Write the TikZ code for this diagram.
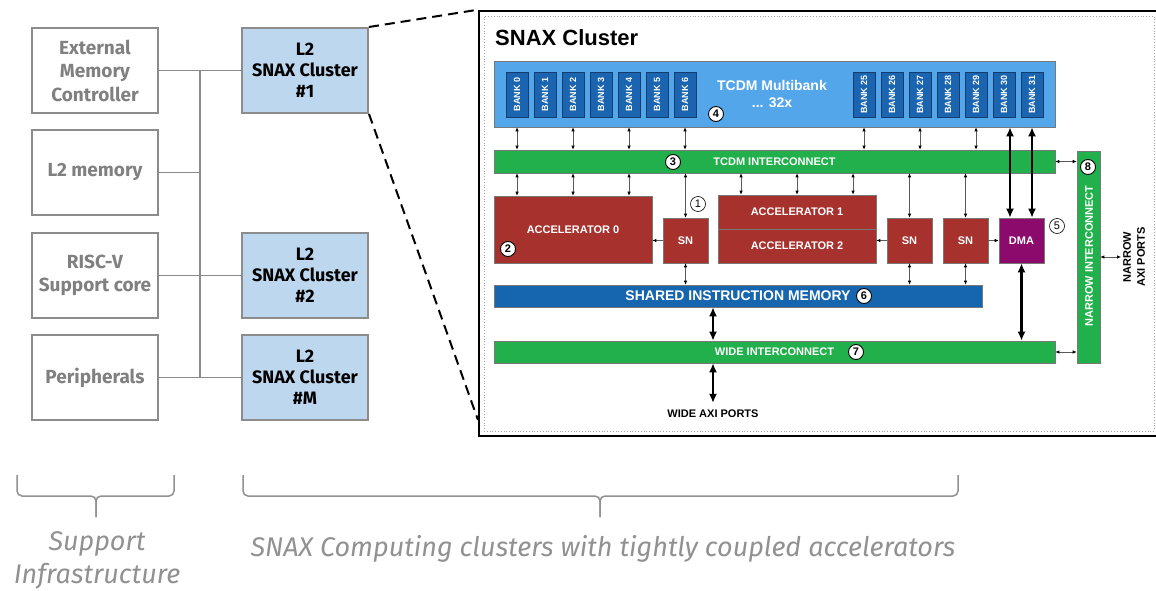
\documentclass[tikz,border=0pt]{standalone}
\usepackage{fontspec}
\setmainfont{Liberation Sans}
\newfontfamily\labelfont{Fira Sans}
\usetikzlibrary{arrows.meta}

\definecolor{boxgray}{RGB}{140,140,140}
\definecolor{boxtext}{RGB}{128,128,128}
\definecolor{clblue}{RGB}{189,215,238}
\definecolor{mbblue}{RGB}{84,166,234}
\definecolor{bankblue}{RGB}{26,100,176}
\definecolor{bankedge}{RGB}{20,60,110}
\definecolor{icgreen}{RGB}{33,176,75}
\definecolor{imemblue}{RGB}{22,101,175}
\definecolor{accred}{RGB}{166,49,45}
\definecolor{dmapurple}{RGB}{140,10,108}
\definecolor{blkedge}{RGB}{120,120,120}
\definecolor{arrgray}{RGB}{90,90,90}
\definecolor{notegray}{RGB}{145,145,145}

\begin{document}
\begin{tikzpicture}[x=1pt,y=-1pt,
  sysbox/.style={draw=boxgray, line width=2pt, minimum width=126pt, minimum height=85pt,
    inner sep=0pt, align=center, font=\labelfont\bfseries\fontsize{19}{23.5}\selectfont},
  supbox/.style={sysbox, fill=white, text=boxtext},
  clbox/.style={sysbox, fill=clblue, text=black, font=\labelfont\bfseries\fontsize{18}{21}\selectfont},
  bus/.style={draw=boxgray, line width=1.8pt},
  zoomline/.style={draw=black, line width=2pt, dash pattern=on 10pt off 6pt},
  blk/.style={draw=blkedge, line width=0.6pt, inner sep=0pt, text=white,
    font=\bfseries\fontsize{11}{13}\selectfont},
  bankbox/.style={blk, fill=bankblue, draw=bankedge, minimum width=22pt, minimum height=45pt},
  banklabel/.style={rotate=90, text=white, inner sep=0pt},
  bar/.style={blk, fill=icgreen},
  accbox/.style={blk, fill=accred, minimum width=158pt},
  snbox/.style={blk, fill=accred, minimum width=45pt, minimum height=45pt},
  num/.style={circle, draw=black, fill=white, line width=0.9pt, minimum size=15pt, inner sep=0pt,
    font=\bfseries\fontsize{11}{11}\selectfont},
  thinarr/.style={draw=arrgray, line width=0.7pt,
    {Latex[length=4pt,width=3.5pt,color=black]}-{Latex[length=4pt,width=3.5pt,color=black]}},
  onearr/.style={draw=arrgray, line width=0.7pt, -{Latex[length=4pt,width=3.5pt,color=black]}},
  thickarr/.style={draw=black, line width=2.6pt, {Latex[length=9pt,width=8pt]}-{Latex[length=9pt,width=8pt]}},
  port/.style={inner sep=0pt, text=black, font=\bfseries\fontsize{11}{13}\selectfont},
  note/.style={inner sep=0pt, text=notegray, align=center, font=\labelfont\itshape\fontsize{27}{33}\selectfont},
  bracket/.style={draw=notegray, line width=1.5pt, rounded corners=5pt}
]
\useasboundingbox (0,0) rectangle (1156,591);
\fill[white] (0,0) rectangle (1156,591);

% ---------- system level ----------
\node[supbox] (ext)    at (95,70.5)  {External\\Memory\\Controller};
\node[supbox] (l2mem)  at (95,172.5) {L2 memory};
\node[supbox] (risc)   at (95,275.5) {RISC-V\\Support core};
\node[supbox] (periph) at (95,377.5) {Peripherals};

\node[clbox] (c1) at (305,70.5)  {L2\\SNAX Cluster\\\#1};
\node[clbox] (c2) at (305,275.5) {L2\\SNAX Cluster\\\#2};
\node[clbox] (cM) at (305,377.5) {L2\\SNAX Cluster\\\#M};

% shared system bus
\coordinate (bus) at (200,0);
\draw[bus] (ext.east -| bus) -- (periph.east -| bus);
\draw[bus] (ext.east) -- (ext.east -| bus);
\draw[bus] (l2mem.east) -- (l2mem.east -| bus);
\draw[bus] (risc.east) -- (risc.east -| bus);
\draw[bus] (periph.east) -- (periph.east -| bus);
\draw[bus] (c1.west) -- (c1.west -| bus);
\draw[bus] (c2.west) -- (c2.west -| bus);
\draw[bus] (cM.west) -- (cM.west -| bus);

% ---------- cluster detail frame ----------
\node[draw=black, line width=2.5pt, fill=white, minimum width=681pt, minimum height=425pt, inner sep=0pt]
  (frame) at (819.5,223.5) {};
\node[draw=gray!70, dotted, line width=0.8pt, minimum width=670pt, minimum height=415pt, inner sep=0pt]
  (inner) at (819,223.5) {};
\coordinate (zb) at (478,420);
\draw[zoomline] (c1.north east) -- (frame.north west);
\draw[zoomline] (c1.south east) -- (zb);

\node[anchor=west, inner sep=0pt, font=\bfseries\fontsize{22}{24}\selectfont] (title) at (495,38) {SNAX Cluster};

% TCDM multibank
\node[blk, fill=mbblue, minimum width=561pt, minimum height=66pt] (mb) at (774.5,94) {};
\foreach \k/\x in {0/517,1/545,2/573,3/601,4/629,5/657,6/685,
                   25/864,26/892,27/920,28/948,29/976,30/1004,31/1032}{
  \node[bankbox, label={[banklabel]center:{\bfseries\fontsize{9}{9}\selectfont BANK \k}}] (b\k) at (\x,94.5) {};
}
\node[align=center, inner sep=0pt, text=white, font=\bfseries\fontsize{14}{17}\selectfont]
  (mbtext) at (772,94.5) {TCDM Multibank\\... 32x};
\node[num] (n4) at (716,114) {4};

% interconnects and memories
\node[bar, minimum width=561pt, minimum height=23pt] (tcdmic) at (774.5,161.5) {TCDM INTERCONNECT};
\node[num] (n3) at (673,162) {3};

\node[accbox, minimum height=67pt] (acc0) at (573,229.5) {ACCELERATOR 0};
\node[num] (n2) at (508,249) {2};
\node[snbox] (sn1) at (685.5,240.5) {SN};
\node[num, line width=0.6pt, font=\fontsize{11}{11}\selectfont] (n1) at (698,204) {1};

\node[accbox, minimum height=34pt] (acc1) at (797,212) {ACCELERATOR 1};
\node[accbox, minimum height=34pt] (acc2) at (797,246) {ACCELERATOR 2};
\node[snbox] (sn2) at (909.5,240.5) {SN};
\node[snbox] (sn3) at (965.5,240.5) {SN};
\node[blk, fill=dmapurple, minimum width=45pt, minimum height=45pt] (dma) at (1021.5,240.5) {DMA};
\node[num, line width=0.6pt, font=\fontsize{11}{11}\selectfont] (n5) at (1057,226) {5};

\node[blk, fill=imemblue, minimum width=488pt, minimum height=22pt, font=\bfseries\fontsize{14}{15}\selectfont]
  (shmem) at (738,296) {SHARED INSTRUCTION MEMORY};
\node[num] (n6) at (864,296) {6};

\node[bar, minimum width=561pt, minimum height=22pt] (wide) at (774.5,352) {WIDE INTERCONNECT};
\node[num] (n7) at (856,352) {7};

\node[bar, minimum width=23pt, minimum height=212pt] (narrow) at (1088.5,257) {};
\node[rotate=90, inner sep=0pt, text=white, font=\bfseries\fontsize{11}{13}\selectfont]
  (narrowtxt) at (1089,256) {NARROW INTERCONNECT};
\node[num] (n8) at (1088,167) {8};

\node[port] (wideaxi) at (713,414) {WIDE AXI PORTS};
\node[port, rotate=90, align=center, font=\bfseries\fontsize{11}{14}\selectfont]
  (naxi) at (1134,257) {NARROW\\AXI PORTS};

% ---------- connections ----------
\foreach \b in {b0,b2,b4,b6,b25,b27,b29}{
  \draw[thinarr] (mb.south -| \b) -- (tcdmic.north -| \b);
}
\foreach \b in {b0,b2,b4}{
  \draw[thinarr] (tcdmic.south -| \b) -- (acc0.north -| \b);
}
\coordinate (xa) at (741,0);
\coordinate (xb) at (853,0);
\draw[thinarr] (tcdmic.south -| xa) -- (acc1.north -| xa);
\draw[thinarr] (tcdmic.south -| acc1) -- (acc1.north);
\draw[thinarr] (tcdmic.south -| xb) -- (acc1.north -| xb);

\draw[thinarr] (tcdmic.south -| sn1) -- (sn1.north);
\draw[thinarr] (tcdmic.south -| sn2) -- (sn2.north);
\draw[thinarr] (tcdmic.south -| sn3) -- (sn3.north);
\draw[thinarr] (sn1.south) -- (shmem.north -| sn1);
\draw[thinarr] (sn2.south) -- (shmem.north -| sn2);
\draw[thinarr] (sn3.south) -- (shmem.north -| sn3);

\draw[onearr] (sn1.west) -- (acc0.east |- sn1.west);
\draw[onearr] (sn2.west) -- (acc2.east |- sn2.west);
\draw[onearr] (sn3.east) -- (dma.west);

\draw[thinarr] (tcdmic.east) -- (narrow.west |- tcdmic.east);
\draw[thinarr] (wide.east) -- (narrow.west |- wide.east);
\coordinate (naxiend) at (1121,257);
\draw[thinarr] (narrow.east |- naxiend) -- (naxiend);

\coordinate (x30) at (1010,0);
\coordinate (x31) at (1032,0);
\coordinate (xw) at (713,0);
\draw[thickarr] (mb.south -| x30) -- (dma.north -| x30);
\draw[thickarr] (mb.south -| x31) -- (dma.north -| x31);
\draw[thickarr] (dma.south) -- (wide.north -| dma);
\draw[thickarr] (shmem.south -| xw) -- (wide.north -| xw);
\draw[thickarr, shorten >=7pt] (wide.south -| xw) -- (wideaxi.north);

% ---------- grouping brackets ----------
\draw[bracket] (17,475) -- (17,496) -- (96,496) -- (96,517);
\draw[bracket] (174,475) -- (174,496) -- (96,496) -- (96,517);
\draw[bracket] (243,475) -- (243,496) -- (600,496) -- (600,517);
\draw[bracket] (958,475) -- (958,496) -- (600,496) -- (600,517);

\node[note] (support) at (97,560) {Support\\Infrastructure};
\node[note] (computing) at (603,549) {SNAX Computing clusters with tightly coupled accelerators};
\end{tikzpicture}
\end{document}
